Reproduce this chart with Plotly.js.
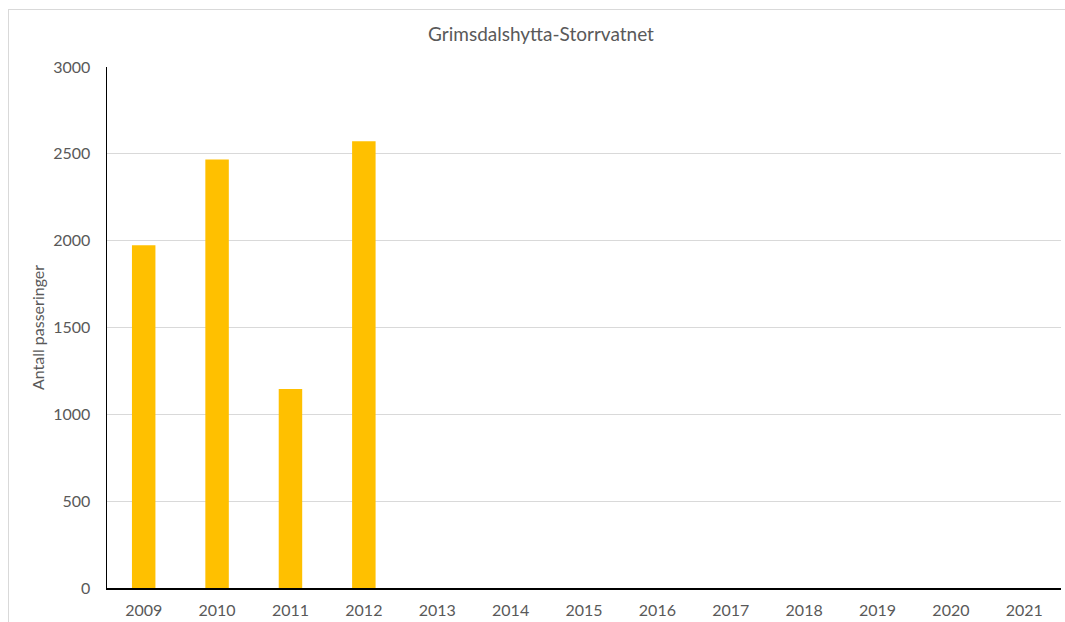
<!DOCTYPE html>
<html>
<head>
<meta charset="utf-8">
<script src="https://cdn.plot.ly/plotly-3.0.1.min.js"></script>
<style>
html,body{margin:0;padding:0;background:#fff;}
#frame{position:absolute;left:8px;top:9px;width:1070px;height:630px;border:1px solid #d9d9d9;box-sizing:border-box;}
#chart{position:absolute;left:0;top:0;width:1065px;height:622px;}
</style>
</head>
<body>
<div id="frame"></div>
<div id="chart"></div>
<script>
const years = ['2009','2010','2011','2012','2013','2014','2015','2016','2017','2018','2019','2020','2021'];
const passeringer = [1974, 2467, 1146, 2573, null, null, null, null, null, null, null, null, null];
const yTicks = [0, 500, 1000, 1500, 2000, 2500, 3000];
const chartTitle = 'Grimsdalshytta-Storrvatnet';
const yTitle = 'Antall passeringer';

const font = 'Lato, "Open Sans", sans-serif';
Plotly.newPlot('chart', [{
  type: 'bar',
  x: years,
  y: passeringer,
  marker: {color: '#ffc000'},
  hoverinfo: 'x+y'
}], {
  width: 1065, height: 622,
  paper_bgcolor: 'rgba(0,0,0,0)',
  plot_bgcolor: 'rgba(0,0,0,0)',
  margin: {l: 107, r: 4, t: 67, b: 34},
  bargap: 0.68,
  showlegend: false,
  title: {text: chartTitle, x: 0.508, xanchor: 'center', y: 0.945, yanchor: 'middle',
          font: {family: font, size: 19, color: '#595959'}},
  xaxis: {
    type: 'category',
    categoryorder: 'array', categoryarray: years,
    showline: true, linecolor: '#000', linewidth: 1.5,
    ticks: '', ticklabelstandoff: 7,
    tickfont: {family: font, size: 16, color: '#595959'},
    showgrid: false, fixedrange: true
  },
  yaxis: {
    range: [0, 3000],
    tickvals: yTicks,
    showline: true, linecolor: '#000', linewidth: 1.5,
    showgrid: true, gridcolor: '#d9d9d9', gridwidth: 1,
    zeroline: false,
    ticks: '', ticklen: 0, ticklabelstandoff: 12,
    tickfont: {family: font, size: 16, color: '#595959'},
    title: {text: yTitle, standoff: 4, font: {family: font, size: 16, color: '#595959'}},
    fixedrange: true
  }
}, {displayModeBar: false, staticPlot: true});
</script>
</body>
</html>
